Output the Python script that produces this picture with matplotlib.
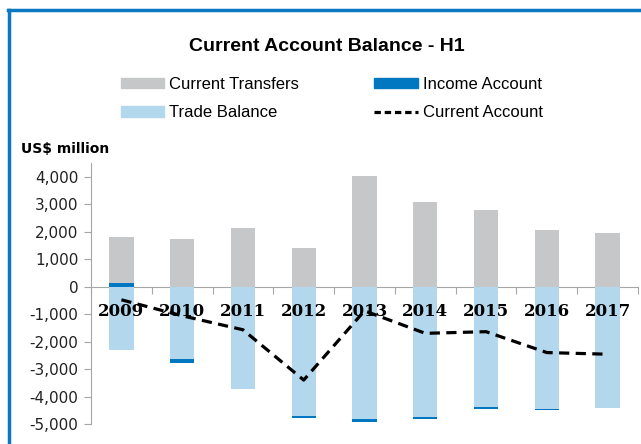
import matplotlib.pyplot as plt
import matplotlib.lines as mlines
import matplotlib.patches as mpatches
import numpy as np

# values (US$ million)
years = ["2009", "2010", "2011", "2012", "2013", "2014", "2015", "2016", "2017"]
transfers = [1650, 1750, 2150, 1400, 4030, 3070, 2800, 2060, 1970]
income = [150, -150, 0, -70, -80, -70, -80, -50, 0]
trade = [-2320, -2630, -3730, -4710, -4830, -4730, -4390, -4440, -4420]
current = [-480, -1060, -1570, -3400, -880, -1700, -1640, -2400, -2460]

c_transfers = "#c6c7c9"
c_trade = "#b3d7ed"
c_income = "#0077c0"
c_frame = "#0a78c2"

fig = plt.figure(figsize=(6.41, 4.44), dpi=100)
ax = fig.add_axes([91 / 641, 20 / 444, 547 / 641, 261 / 444])

x = np.arange(len(years))
w = 0.4

# positive side: income then transfers; negative side: trade then income
pos = np.zeros(len(years))
neg = np.zeros(len(years))
for side, series in [("pos", [(income, c_income), (transfers, c_transfers)]),
                     ("neg", [(trade, c_trade), (income, c_income)])]:
    for vals, col in series:
        vals = np.array(vals, dtype=float)
        if side == "pos":
            vals = np.where(vals > 0, vals, 0)
            ax.bar(x, vals, w, bottom=pos, color=col, zorder=2)
            pos = pos + vals
        else:
            vals = np.where(vals < 0, vals, 0)
            ax.bar(x, vals, w, bottom=neg, color=col, zorder=2)
            neg = neg + vals

ax.plot(x, current, color="black", lw=2.3, dashes=(3.2, 2), zorder=6)

ax.set_xlim(-0.5, len(years) - 0.5)
ax.set_ylim(-5000, 4500)
ax.set_yticks(range(-5000, 4001, 1000))
ax.set_yticklabels([f"{v:,}" for v in range(-5000, 4001, 1000)],
                   fontsize=11, family="DejaVu Sans", color="#222222")

for s in ["top", "right"]:
    ax.spines[s].set_visible(False)
ax.spines["bottom"].set_position(("data", 0))
ax.spines["bottom"].set_color("#a6a6a6")
ax.spines["left"].set_color("#a6a6a6")
ax.spines["bottom"].set_zorder(1)

ax.set_xticks(np.arange(len(years) + 1) - 0.5)
ax.set_xticklabels([])
ax.set_xticks(x, minor=True)
ax.set_xticklabels(years, minor=True, fontsize=12, fontweight="bold",
                   family="DejaVu Serif", color="black")
ax.tick_params(axis="x", which="major", direction="out", length=5, color="#a6a6a6")
ax.tick_params(axis="x", which="minor", length=0, pad=12)
ax.tick_params(axis="y", direction="out", length=5, color="#a6a6a6", pad=4)
ax.xaxis.set_zorder(5)

fig.text(327 / 641, 1 - 46 / 444, "Current Account Balance - H1", ha="center",
         va="center", fontsize=14, fontweight="bold", family="Liberation Sans")
fig.text(21 / 641, 1 - 149 / 444, "US$ million", ha="left", va="center",
         fontsize=10, fontweight="bold", family="DejaVu Sans")

handles = [
    mpatches.Patch(color=c_transfers, label="Current Transfers"),
    mpatches.Patch(color=c_trade, label="Trade Balance"),
    mpatches.Patch(color=c_income, label="Income Account"),
    mlines.Line2D([], [], color="black", lw=2.3, dashes=(2, 1.2), label="Current Account"),
]
fig.legend(handles=handles, ncol=2, loc="upper left",
           bbox_to_anchor=(106 / 641, 1 - 62 / 444), frameon=False,
           prop={"family": "Liberation Sans", "size": 12},
           handlelength=2.6, handleheight=0.6, handletextpad=0.3,
           columnspacing=4.5, labelspacing=0.8)

# blue frame on left and top
fig.add_artist(mlines.Line2D([9 / 641, 9 / 641], [0, 1 - 10.5 / 444],
                             color=c_frame, lw=2.5, transform=fig.transFigure))
fig.add_artist(mlines.Line2D([9 / 641 - 1.2 / 641, 1], [1 - 10.5 / 444, 1 - 10.5 / 444],
                             color=c_frame, lw=2.5, transform=fig.transFigure))

fig.savefig("out.png", dpi=100)
